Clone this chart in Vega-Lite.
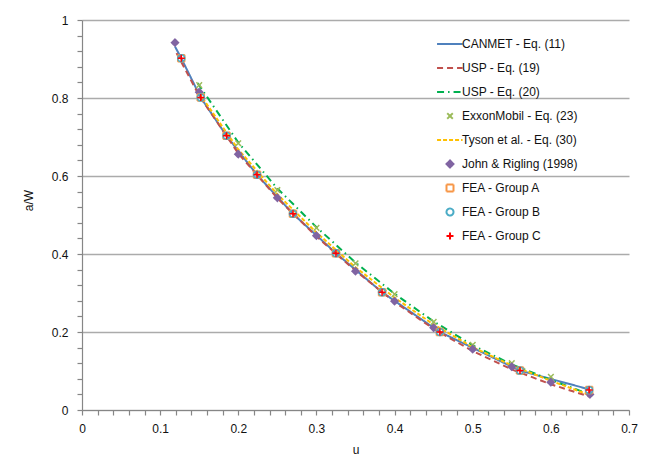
{
  "$schema": "https://vega.github.io/schema/vega-lite/v6.json",
  "width": 547,
  "height": 390,
  "autosize": {"type": "none"},
  "padding": {"left": 82, "top": 20, "right": 16, "bottom": 61},
  "background": "white",
  "config": {
    "view": {"stroke": null},
    "font": "Liberation Sans",
    "legend": {"labelFont": "Liberation Sans", "labelFontSize": 12, "labelColor": "#111"}
  },
  "data": {
    "values": [
      {"series": "CANMET - Eq. (11)", "kind": "line", "u": 0.119, "aw": 0.932},
      {"series": "CANMET - Eq. (11)", "kind": "line", "u": 0.127, "aw": 0.902},
      {"series": "CANMET - Eq. (11)", "kind": "line", "u": 0.152, "aw": 0.801},
      {"series": "CANMET - Eq. (11)", "kind": "line", "u": 0.185, "aw": 0.703},
      {"series": "CANMET - Eq. (11)", "kind": "line", "u": 0.224, "aw": 0.603},
      {"series": "CANMET - Eq. (11)", "kind": "line", "u": 0.270, "aw": 0.503},
      {"series": "CANMET - Eq. (11)", "kind": "line", "u": 0.325, "aw": 0.402},
      {"series": "CANMET - Eq. (11)", "kind": "line", "u": 0.384, "aw": 0.302},
      {"series": "CANMET - Eq. (11)", "kind": "line", "u": 0.458, "aw": 0.200},
      {"series": "CANMET - Eq. (11)", "kind": "line", "u": 0.5605, "aw": 0.101},
      {"series": "CANMET - Eq. (11)", "kind": "line", "u": 0.649, "aw": 0.053},

      {"series": "USP - Eq. (19)", "kind": "line", "u": 0.121, "aw": 0.915},
      {"series": "USP - Eq. (19)", "kind": "line", "u": 0.15, "aw": 0.806},
      {"series": "USP - Eq. (19)", "kind": "line", "u": 0.2, "aw": 0.658},
      {"series": "USP - Eq. (19)", "kind": "line", "u": 0.25, "aw": 0.543},
      {"series": "USP - Eq. (19)", "kind": "line", "u": 0.3, "aw": 0.445},
      {"series": "USP - Eq. (19)", "kind": "line", "u": 0.35, "aw": 0.357},
      {"series": "USP - Eq. (19)", "kind": "line", "u": 0.4, "aw": 0.277},
      {"series": "USP - Eq. (19)", "kind": "line", "u": 0.45, "aw": 0.208},
      {"series": "USP - Eq. (19)", "kind": "line", "u": 0.5, "aw": 0.151},
      {"series": "USP - Eq. (19)", "kind": "line", "u": 0.55, "aw": 0.104},
      {"series": "USP - Eq. (19)", "kind": "line", "u": 0.6, "aw": 0.066},
      {"series": "USP - Eq. (19)", "kind": "line", "u": 0.65, "aw": 0.034},

      {"series": "USP - Eq. (20)", "kind": "line", "u": 0.148, "aw": 0.838},
      {"series": "USP - Eq. (20)", "kind": "line", "u": 0.2, "aw": 0.686},
      {"series": "USP - Eq. (20)", "kind": "line", "u": 0.25, "aw": 0.568},
      {"series": "USP - Eq. (20)", "kind": "line", "u": 0.3, "aw": 0.469},
      {"series": "USP - Eq. (20)", "kind": "line", "u": 0.35, "aw": 0.378},
      {"series": "USP - Eq. (20)", "kind": "line", "u": 0.4, "aw": 0.298},
      {"series": "USP - Eq. (20)", "kind": "line", "u": 0.45, "aw": 0.227},
      {"series": "USP - Eq. (20)", "kind": "line", "u": 0.5, "aw": 0.166},
      {"series": "USP - Eq. (20)", "kind": "line", "u": 0.55, "aw": 0.117},
      {"series": "USP - Eq. (20)", "kind": "line", "u": 0.6, "aw": 0.077},
      {"series": "USP - Eq. (20)", "kind": "line", "u": 0.65, "aw": 0.040},

      {"series": "Tyson et al. - Eq. (30)", "kind": "line", "u": 0.15, "aw": 0.812},
      {"series": "Tyson et al. - Eq. (30)", "kind": "line", "u": 0.2, "aw": 0.668},
      {"series": "Tyson et al. - Eq. (30)", "kind": "line", "u": 0.25, "aw": 0.553},
      {"series": "Tyson et al. - Eq. (30)", "kind": "line", "u": 0.3, "aw": 0.455},
      {"series": "Tyson et al. - Eq. (30)", "kind": "line", "u": 0.35, "aw": 0.366},
      {"series": "Tyson et al. - Eq. (30)", "kind": "line", "u": 0.4, "aw": 0.288},
      {"series": "Tyson et al. - Eq. (30)", "kind": "line", "u": 0.45, "aw": 0.219},
      {"series": "Tyson et al. - Eq. (30)", "kind": "line", "u": 0.5, "aw": 0.161},
      {"series": "Tyson et al. - Eq. (30)", "kind": "line", "u": 0.55, "aw": 0.114},
      {"series": "Tyson et al. - Eq. (30)", "kind": "line", "u": 0.6, "aw": 0.075},
      {"series": "Tyson et al. - Eq. (30)", "kind": "line", "u": 0.65, "aw": 0.038},

      {"series": "ExxonMobil - Eq. (23)", "kind": "point", "u": 0.15, "aw": 0.833},
      {"series": "ExxonMobil - Eq. (23)", "kind": "point", "u": 0.2, "aw": 0.684},
      {"series": "ExxonMobil - Eq. (23)", "kind": "point", "u": 0.25, "aw": 0.564},
      {"series": "ExxonMobil - Eq. (23)", "kind": "point", "u": 0.3, "aw": 0.467},
      {"series": "ExxonMobil - Eq. (23)", "kind": "point", "u": 0.35, "aw": 0.376},
      {"series": "ExxonMobil - Eq. (23)", "kind": "point", "u": 0.4, "aw": 0.297},
      {"series": "ExxonMobil - Eq. (23)", "kind": "point", "u": 0.45, "aw": 0.226},
      {"series": "ExxonMobil - Eq. (23)", "kind": "point", "u": 0.5, "aw": 0.167},
      {"series": "ExxonMobil - Eq. (23)", "kind": "point", "u": 0.55, "aw": 0.120},
      {"series": "ExxonMobil - Eq. (23)", "kind": "point", "u": 0.6, "aw": 0.085},

      {"series": "John & Rigling (1998)", "kind": "point", "u": 0.119, "aw": 0.942},
      {"series": "John & Rigling (1998)", "kind": "point", "u": 0.15, "aw": 0.815},
      {"series": "John & Rigling (1998)", "kind": "point", "u": 0.2, "aw": 0.656},
      {"series": "John & Rigling (1998)", "kind": "point", "u": 0.25, "aw": 0.544},
      {"series": "John & Rigling (1998)", "kind": "point", "u": 0.3, "aw": 0.447},
      {"series": "John & Rigling (1998)", "kind": "point", "u": 0.35, "aw": 0.356},
      {"series": "John & Rigling (1998)", "kind": "point", "u": 0.4, "aw": 0.279},
      {"series": "John & Rigling (1998)", "kind": "point", "u": 0.45, "aw": 0.211},
      {"series": "John & Rigling (1998)", "kind": "point", "u": 0.5, "aw": 0.156},
      {"series": "John & Rigling (1998)", "kind": "point", "u": 0.55, "aw": 0.111},
      {"series": "John & Rigling (1998)", "kind": "point", "u": 0.6, "aw": 0.071},
      {"series": "John & Rigling (1998)", "kind": "point", "u": 0.65, "aw": 0.040},

      {"series": "FEA - Group A", "kind": "point", "u": 0.127, "aw": 0.902},
      {"series": "FEA - Group A", "kind": "point", "u": 0.152, "aw": 0.801},
      {"series": "FEA - Group A", "kind": "point", "u": 0.185, "aw": 0.703},
      {"series": "FEA - Group A", "kind": "point", "u": 0.224, "aw": 0.603},
      {"series": "FEA - Group A", "kind": "point", "u": 0.270, "aw": 0.503},
      {"series": "FEA - Group A", "kind": "point", "u": 0.325, "aw": 0.402},
      {"series": "FEA - Group A", "kind": "point", "u": 0.384, "aw": 0.302},
      {"series": "FEA - Group A", "kind": "point", "u": 0.458, "aw": 0.200},
      {"series": "FEA - Group A", "kind": "point", "u": 0.5605, "aw": 0.101},
      {"series": "FEA - Group A", "kind": "point", "u": 0.649, "aw": 0.051},

      {"series": "FEA - Group B", "kind": "point", "u": 0.127, "aw": 0.902},
      {"series": "FEA - Group B", "kind": "point", "u": 0.152, "aw": 0.801},
      {"series": "FEA - Group B", "kind": "point", "u": 0.185, "aw": 0.703},
      {"series": "FEA - Group B", "kind": "point", "u": 0.224, "aw": 0.603},
      {"series": "FEA - Group B", "kind": "point", "u": 0.270, "aw": 0.503},
      {"series": "FEA - Group B", "kind": "point", "u": 0.325, "aw": 0.402},
      {"series": "FEA - Group B", "kind": "point", "u": 0.384, "aw": 0.302},
      {"series": "FEA - Group B", "kind": "point", "u": 0.458, "aw": 0.200},
      {"series": "FEA - Group B", "kind": "point", "u": 0.5605, "aw": 0.101},
      {"series": "FEA - Group B", "kind": "point", "u": 0.649, "aw": 0.051},

      {"series": "FEA - Group C", "kind": "point", "u": 0.127, "aw": 0.902},
      {"series": "FEA - Group C", "kind": "point", "u": 0.152, "aw": 0.801},
      {"series": "FEA - Group C", "kind": "point", "u": 0.185, "aw": 0.703},
      {"series": "FEA - Group C", "kind": "point", "u": 0.224, "aw": 0.603},
      {"series": "FEA - Group C", "kind": "point", "u": 0.270, "aw": 0.503},
      {"series": "FEA - Group C", "kind": "point", "u": 0.325, "aw": 0.402},
      {"series": "FEA - Group C", "kind": "point", "u": 0.384, "aw": 0.302},
      {"series": "FEA - Group C", "kind": "point", "u": 0.458, "aw": 0.200},
      {"series": "FEA - Group C", "kind": "point", "u": 0.5605, "aw": 0.101},
      {"series": "FEA - Group C", "kind": "point", "u": 0.649, "aw": 0.051}
    ]
  },
  "encoding": {
    "x": {
      "field": "u", "type": "quantitative",
      "scale": {"domain": [0, 0.7], "nice": false, "zero": false},
      "axis": {
        "title": "u",
        "values": [0,0.02,0.04,0.06,0.08,0.1,0.12,0.14,0.16,0.18,0.2,0.22,0.24,0.26,0.28,0.3,0.32,0.34,0.36,0.38,0.4,0.42,0.44,0.46,0.48,0.5,0.52,0.54,0.56,0.58,0.6,0.62,0.64,0.66,0.68,0.7],
        "labelExpr": "abs(datum.value*10 - round(datum.value*10)) < 0.001 ? format(datum.value, '~g') : ''",
        "labelOverlap": false,
        "grid": false,
        "domainColor": "#868686", "domainWidth": 1.2,
        "tickColor": "#868686", "tickSize": 5, "tickWidth": 1.2,
        "labelFont": "Liberation Sans", "labelFontSize": 12, "labelColor": "#111", "labelPadding": 8,
        "labelFlush": false,
        "titleFont": "Liberation Sans", "titleFontSize": 12, "titleFontWeight": "normal", "titleColor": "#111", "titlePadding": 10
      }
    },
    "y": {
      "field": "aw", "type": "quantitative",
      "scale": {"domain": [0, 1], "nice": false, "zero": false},
      "axis": {
        "title": "a/W",
        "values": [0,0.04,0.08,0.12,0.16,0.2,0.24,0.28,0.32,0.36,0.4,0.44,0.48,0.52,0.56,0.6,0.64,0.68,0.72,0.76,0.8,0.84,0.88,0.92,0.96,1],
        "labelExpr": "abs(datum.value*5 - round(datum.value*5)) < 0.001 ? format(datum.value, '~g') : ''",
        "labelOverlap": false,
        "labelFlush": false,
        "grid": true,
        "gridColor": "#ABABAB", "gridWidth": 1.5,
        "gridOpacity": {"condition": {"test": "abs(datum.value*5 - round(datum.value*5)) < 0.001", "value": 1}, "value": 0},
        "domainColor": "#868686", "domainWidth": 1.2,
        "tickColor": "#868686", "tickSize": 5, "tickWidth": 1.2,
        "labelFont": "Liberation Sans", "labelFontSize": 12, "labelColor": "#111", "labelPadding": 9,
        "titleFont": "Liberation Sans", "titleFontSize": 12, "titleFontWeight": "normal", "titleColor": "#111",
        "titleX": -47, "titleY": 180
      }
    },
    "stroke": {
      "field": "series", "type": "nominal",
      "scale": {
        "domain": ["CANMET - Eq. (11)", "USP - Eq. (19)", "USP - Eq. (20)", "ExxonMobil - Eq. (23)", "Tyson et al. - Eq. (30)", "John & Rigling (1998)", "FEA - Group A", "FEA - Group B", "FEA - Group C"],
        "range": ["#4F81BD", "#C0504D", "#00B050", "#9BBB59", "#FFC000", "#8064A2", "#F79646", "#4BACC6", "#FF0000"]
      },
      "legend": {
        "title": null,
        "orient": "none",
        "legendX": 362,
        "legendY": 18,
        "padding": 0,
        "gridAlign": "all",
        "symbolSize": 49,
        "symbolStrokeWidth": 2,
        "labelOffset": 6,
        "rowPadding": 8,
        "labelFontSize": 12,
        "labelFont": "Liberation Sans"
      }
    },
    "strokeDash": {
      "field": "series", "type": "nominal",
      "scale": {
        "domain": ["CANMET - Eq. (11)", "USP - Eq. (19)", "USP - Eq. (20)", "ExxonMobil - Eq. (23)", "Tyson et al. - Eq. (30)", "John & Rigling (1998)", "FEA - Group A", "FEA - Group B", "FEA - Group C"],
        "range": [[1, 0], [6, 4], [7, 4, 1.5, 4], [1, 0], [4, 2], [1, 0], [1, 0], [1, 0], [1, 0]]
      }
    }
  },
  "layer": [
    {
      "transform": [{"filter": "datum.kind == 'line'"}],
      "mark": {"type": "line", "strokeWidth": 2, "clip": false}
    },
    {
      "transform": [{"filter": "datum.kind == 'point'"}],
      "mark": {"type": "point", "size": 49, "strokeWidth": 1.5, "opacity": 1},
      "encoding": {
        "shape": {
          "field": "series", "type": "nominal",
          "scale": {
            "domain": ["CANMET - Eq. (11)", "USP - Eq. (19)", "USP - Eq. (20)", "ExxonMobil - Eq. (23)", "Tyson et al. - Eq. (30)", "John & Rigling (1998)", "FEA - Group A", "FEA - Group B", "FEA - Group C"],
            "range": ["M-3.7,0H3.6", "M-3.7,0H3.6", "M-3.7,0H3.6", "M-0.8,-0.8L0.8,0.8M-0.8,0.8L0.8,-0.8", "M-3.7,0H3.6", "diamond", "square", "circle", "M-1,0H1M0,-1V1"]
          }
        },
        "fill": {
          "field": "series", "type": "nominal",
          "scale": {
            "domain": ["CANMET - Eq. (11)", "USP - Eq. (19)", "USP - Eq. (20)", "ExxonMobil - Eq. (23)", "Tyson et al. - Eq. (30)", "John & Rigling (1998)", "FEA - Group A", "FEA - Group B", "FEA - Group C"],
            "range": ["transparent", "transparent", "transparent", "transparent", "transparent", "#8064A2", "transparent", "transparent", "transparent"]
          }
        }
      }
    }
  ]
}
